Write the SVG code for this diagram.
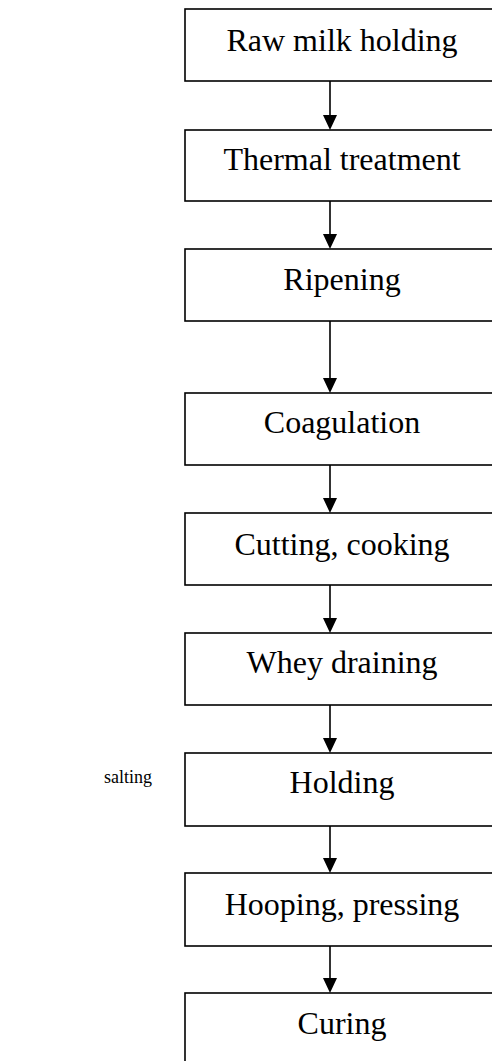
<svg xmlns="http://www.w3.org/2000/svg" width="492" height="1061" viewBox="0 0 492 1061">
<style>
.box{fill:#fff;stroke:#000;stroke-width:1.6}
.lbl{font-family:"Liberation Serif","Times New Roman",serif;font-size:32px;fill:#000;text-anchor:middle}
.side{font-family:"Liberation Serif","Times New Roman",serif;font-size:18px;fill:#000}
.ln{stroke:#000;stroke-width:1.6;fill:none}
.hd{fill:#000}
</style>
<rect width="492" height="1061" fill="#fff"/>
<g id="connectors">
<line class="ln" x1="330" y1="81" x2="330" y2="116"/><polygon class="hd" points="323,115 337,115 330,130"/>
<line class="ln" x1="330" y1="201" x2="330" y2="235"/><polygon class="hd" points="323,234 337,234 330,249"/>
<line class="ln" x1="330" y1="321" x2="330" y2="379"/><polygon class="hd" points="323,378 337,378 330,393"/>
<line class="ln" x1="330" y1="465" x2="330" y2="499"/><polygon class="hd" points="323,498 337,498 330,513"/>
<line class="ln" x1="330" y1="585" x2="330" y2="619"/><polygon class="hd" points="323,618 337,618 330,633"/>
<line class="ln" x1="330" y1="705" x2="330" y2="739"/><polygon class="hd" points="323,738 337,738 330,753"/>
<line class="ln" x1="330" y1="826" x2="330" y2="859"/><polygon class="hd" points="323,858 337,858 330,873"/>
<line class="ln" x1="330" y1="946" x2="330" y2="979"/><polygon class="hd" points="323,978 337,978 330,993"/>
</g>
<g id="n1"><rect class="box" x="185" y="9" width="320" height="72"/><text class="lbl" x="342" y="51">Raw milk holding</text></g>
<g id="n2"><rect class="box" x="185" y="130" width="320" height="71"/><text class="lbl" x="342" y="170">Thermal treatment</text></g>
<g id="n3"><rect class="box" x="185" y="249" width="320" height="72"/><text class="lbl" x="342" y="290">Ripening</text></g>
<g id="n4"><rect class="box" x="185" y="393" width="320" height="72"/><text class="lbl" x="342" y="433">Coagulation</text></g>
<g id="n5"><rect class="box" x="185" y="513" width="320" height="72"/><text class="lbl" x="342" y="555">Cutting, cooking</text></g>
<g id="n6"><rect class="box" x="185" y="633" width="320" height="72"/><text class="lbl" x="342" y="673">Whey draining</text></g>
<g id="n7"><rect class="box" x="185" y="753" width="320" height="73"/><text class="lbl" x="342" y="793">Holding</text></g>
<g id="n8"><rect class="box" x="185" y="873" width="320" height="73"/><text class="lbl" x="342" y="915">Hooping, pressing</text></g>
<g id="n9"><rect class="box" x="185" y="993" width="320" height="80"/><text class="lbl" x="342" y="1034">Curing</text></g>
<g id="salting"><text class="side" x="104" y="783">salting</text></g>
</svg>
